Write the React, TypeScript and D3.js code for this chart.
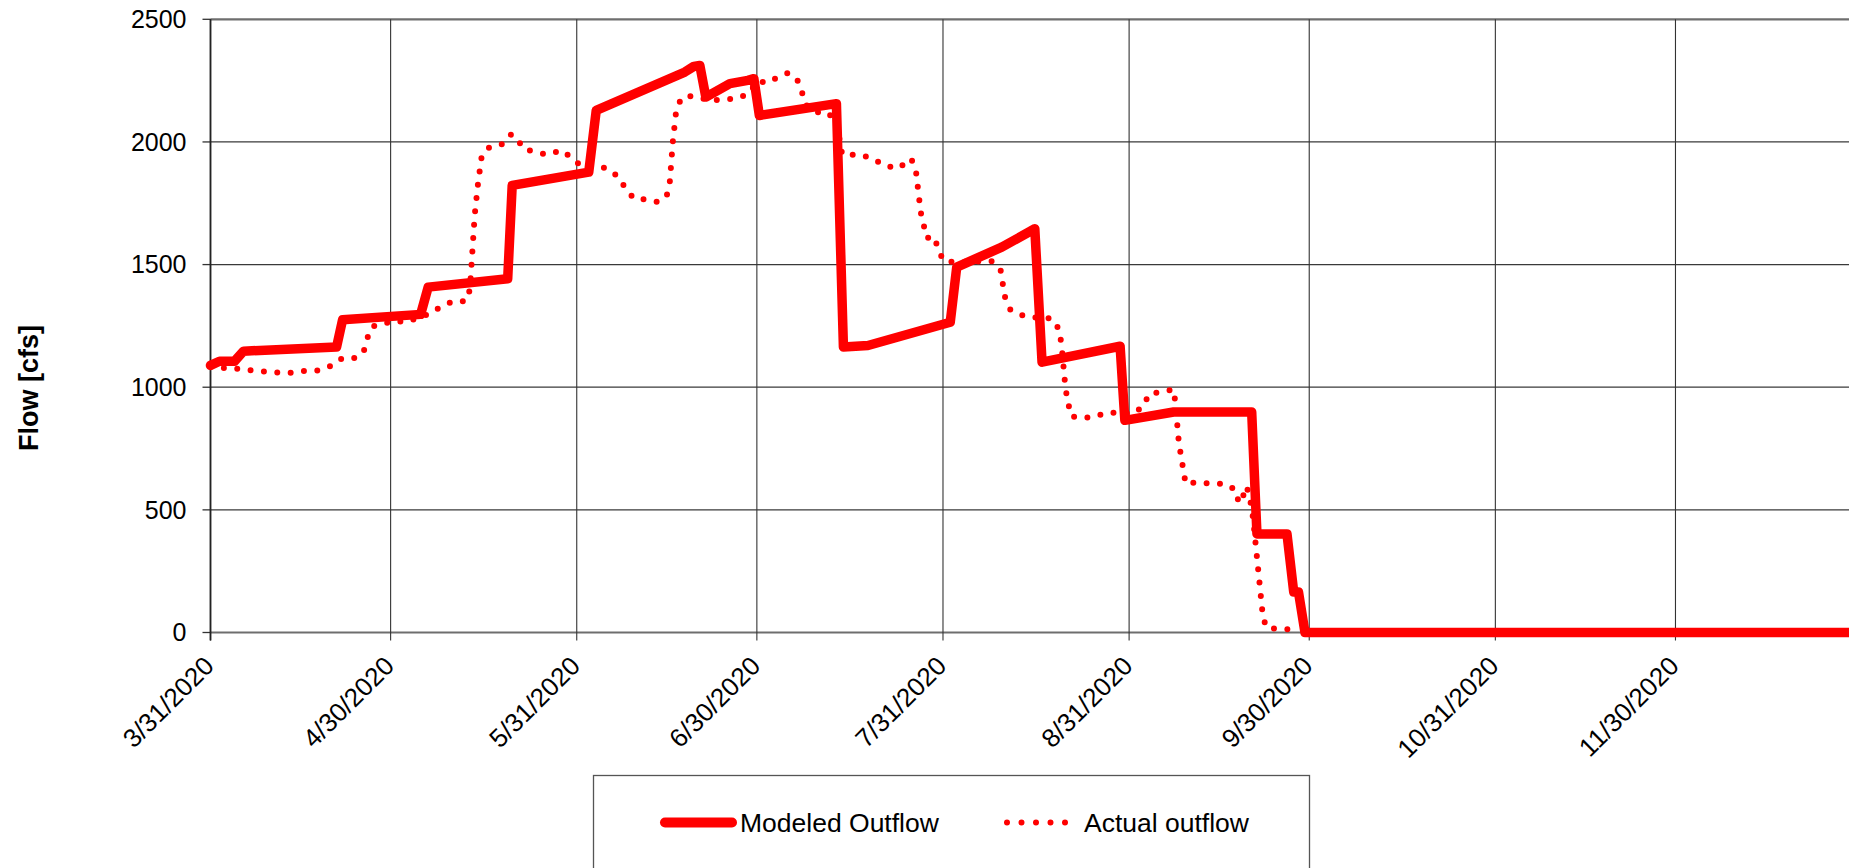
import React from "react";
import * as d3 from "d3";

// ---- data ----
const xTickLabels = ["3/31/2020", "4/30/2020", "5/31/2020", "6/30/2020", "7/31/2020", "8/31/2020", "9/30/2020", "10/31/2020", "11/30/2020"];
const yTickValues = [0, 500, 1000, 1500, 2000, 2500];
const xDomain = ["2020-03-31", "2020-12-31"];

const modeledDates = [
  "2020-03-31", "2020-04-01T12", "2020-04-04", "2020-04-05T12", "2020-04-21", "2020-04-22",
  "2020-05-05", "2020-05-06T06", "2020-05-19T12", "2020-05-20T06", "2020-06-02", "2020-06-03T06",
  "2020-06-18", "2020-06-19T12", "2020-06-20T12", "2020-06-21T12", "2020-06-25T12", "2020-06-28T12",
  "2020-06-29T12", "2020-06-30T10", "2020-07-13T06", "2020-07-14T10", "2020-07-18T12", "2020-08-01T05",
  "2020-08-02T07", "2020-08-09T19", "2020-08-15T07", "2020-08-16T12", "2020-08-29T12", "2020-08-30T07",
  "2020-09-07T10", "2020-09-20T10", "2020-09-21T07", "2020-09-26T07", "2020-09-27T10", "2020-09-28T05",
  "2020-09-29T07", "2020-12-31",
];
const modeledValues = [
  1089, 1106, 1106, 1147, 1164, 1275,
  1297, 1408, 1442, 1823, 1877, 2129,
  2285, 2308, 2312, 2183, 2238, 2251,
  2258, 2108, 2156, 1164, 1170, 1265,
  1490, 1571, 1646, 1102, 1167, 865,
  899, 899, 402, 402, 165, 165,
  0, 0,
];

const actualDates = [
  "2020-03-31", "2020-04-04T12", "2020-04-07", "2020-04-11T12", "2020-04-13T12", "2020-04-16",
  "2020-04-18", "2020-04-20", "2020-04-22", "2020-04-24", "2020-04-25T12", "2020-04-26",
  "2020-04-27", "2020-04-30T12", "2020-05-02T12", "2020-05-05", "2020-05-06T12", "2020-05-08T12",
  "2020-05-10T12", "2020-05-12T12", "2020-05-13T05", "2020-05-14", "2020-05-14T14", "2020-05-15T05",
  "2020-05-16T12", "2020-05-18T12", "2020-05-20", "2020-05-21", "2020-05-22", "2020-05-24",
  "2020-05-26", "2020-05-28T12", "2020-05-30", "2020-05-31T12", "2020-06-02T12", "2020-06-05",
  "2020-06-06T18", "2020-06-08", "2020-06-09T12", "2020-06-11T12", "2020-06-13T12", "2020-06-15",
  "2020-06-15T12", "2020-06-16", "2020-06-16T12", "2020-06-17T05", "2020-06-18T07", "2020-06-20T07",
  "2020-06-22T14", "2020-06-24T22", "2020-06-27", "2020-06-28T19", "2020-06-30", "2020-07-02",
  "2020-07-03T07", "2020-07-05T05", "2020-07-06T17", "2020-07-07T12", "2020-07-08T02", "2020-07-09T17",
  "2020-07-11T19", "2020-07-12T17", "2020-07-13T05", "2020-07-14T05", "2020-07-17T05", "2020-07-19T07",
  "2020-07-21T05", "2020-07-23T10", "2020-07-24T22", "2020-07-25T17", "2020-07-26T12", "2020-07-27T07",
  "2020-07-28T07", "2020-07-29T10", "2020-07-30T05", "2020-07-31", "2020-08-01T19", "2020-08-08T02",
  "2020-08-09T14", "2020-08-10T07", "2020-08-11T05", "2020-08-12T19", "2020-08-14T22", "2020-08-17T05",
  "2020-08-18T19", "2020-08-19T12", "2020-08-19T19", "2020-08-20T10", "2020-08-21T07", "2020-08-22T19",
  "2020-08-25", "2020-08-27T05", "2020-08-29T05", "2020-08-31T17", "2020-09-02T10", "2020-09-03T07",
  "2020-09-05T07", "2020-09-07T10", "2020-09-07T17", "2020-09-08T07", "2020-09-09T10", "2020-09-11T12",
  "2020-09-13T19", "2020-09-16", "2020-09-17T17", "2020-09-18T07", "2020-09-18T22", "2020-09-19T14",
  "2020-09-20T10", "2020-09-20T17", "2020-09-22T07", "2020-09-22T22", "2020-09-25T05", "2020-09-27T10",
];
const actualValues = [
  1082, 1075, 1068, 1059, 1059, 1068,
  1068, 1086, 1119, 1119, 1143, 1194,
  1248, 1270, 1266, 1286, 1300, 1330,
  1351, 1350, 1398, 1700, 1837, 1949,
  1979, 1990, 2030, 2020, 1973, 1959,
  1949, 1966, 1938, 1907, 1905, 1892,
  1861, 1816, 1769, 1766, 1755, 1782,
  1837, 2000, 2113, 2167, 2190, 2179,
  2170, 2174, 2179, 2200, 2247, 2242,
  2262, 2281, 2255, 2204, 2153, 2122,
  2120, 2095, 2090, 1948, 1948, 1932,
  1905, 1891, 1916, 1932, 1880, 1714,
  1608, 1616, 1567, 1517, 1510, 1514,
  1480, 1370, 1317, 1296, 1284, 1286,
  1266, 1214, 1160, 992, 882, 875,
  878, 896, 896, 892, 923, 973,
  980, 991, 935, 772, 606, 613,
  606, 606, 582, 527, 552, 597,
  511, 450, 62, 18, 15, 12,
];

const seriesNames = ["Modeled Outflow", "Actual outflow"];
const yTitle = "Flow [cfs]";

// ---- helpers ----
const parseHour = d3.utcParse("%Y-%m-%dT%H");
const parseDay = d3.utcParse("%Y-%m-%d");
const parseLabel = d3.utcParse("%m/%d/%Y");
const parse = (s: string) => (s.length > 10 ? parseHour(s) : parseDay(s)) as Date;

const FONT = "'Liberation Sans', Arial, Helvetica, sans-serif";
const RED = "#ff0000";

export default function App() {
  const W = 1849;
  const H = 868;
  const left = 210.5;
  const top = 19.3;
  const bottom = 632.5;

  const x = d3
    .scaleUtc()
    .domain([parse(xDomain[0]), parse(xDomain[1])])
    .range([left, left + 275 * 6.004]);
  const y = d3.scaleLinear().domain([0, 2500]).range([bottom, top]);

  const modeled: [Date, number][] = modeledDates.map((d, i) => [parse(d), modeledValues[i]]);
  const actual: [Date, number][] = actualDates.map((d, i) => [parse(d), actualValues[i]]);

  const line = d3
    .line<[Date, number]>()
    .x((d) => x(d[0]))
    .y((d) => y(d[1]));

  const tickDates = xTickLabels.map((s) => parseLabel(s) as Date);
  const right = W + 20;

  return (
    <svg
      width={W}
      height={H}
      style={{ position: "absolute", left: 0, top: 0, background: "#fff" }}
      fontFamily={FONT}
    >
      <rect x={0} y={0} width={W} height={H} fill="#fff" />
      {/* horizontal gridlines */}
      {yTickValues.map((v) => {
        const edge = v === 0 || v === 2500;
        return (
          <line
            key={"h" + v}
            x1={left}
            x2={right}
            y1={y(v)}
            y2={y(v)}
            stroke={edge ? "#6e6e6e" : "#3a3a3a"}
            strokeWidth={edge ? 2.2 : 1.3}
          />
        );
      })}
      {/* vertical gridlines + ticks */}
      {tickDates.map((d, i) => (
        <line
          key={"v" + i}
          x1={x(d)}
          x2={x(d)}
          y1={top}
          y2={bottom + 8}
          stroke="#333"
          strokeWidth={1.1}
        />
      ))}
      {/* y ticks */}
      {yTickValues.map((v) => (
        <line key={"yt" + v} x1={left - 8} x2={left} y1={y(v)} y2={y(v)} stroke="#333" strokeWidth={1.3} />
      ))}
      {/* y axis line */}
      <line x1={left} x2={left} y1={top} y2={bottom + 8} stroke="#222" strokeWidth={1.8} />

      {/* y tick labels */}
      {yTickValues.map((v) => (
        <text key={"yl" + v} x={186.5} y={y(v)} dy="0.35em" textAnchor="end" fontSize={25} fill="#000">
          {v}
        </text>
      ))}
      {/* x tick labels */}
      {tickDates.map((d, i) => (
        <text
          key={"xl" + i}
          transform={`translate(${x(d) + 5},${bottom + 35}) rotate(-45)`}
          textAnchor="end"
          fontSize={26}
          fill="#000"
        >
          {xTickLabels[i]}
        </text>
      ))}
      {/* y title */}
      <text
        transform={`translate(37.5,388) rotate(-90)`}
        textAnchor="middle"
        fontSize={27}
        fontWeight="bold"
        fill="#000"
      >
        {yTitle}
      </text>

      {/* series */}
      <path
        d={line(actual) || ""}
        fill="none"
        stroke={RED}
        strokeWidth={6}
        strokeLinecap="round"
        strokeDasharray="0 13.4"
      />
      <path
        d={line(modeled) || ""}
        fill="none"
        stroke={RED}
        strokeWidth={9.5}
        strokeLinejoin="round"
        strokeLinecap="round"
      />

      {/* legend */}
      <rect x={593.5} y={775.5} width={716} height={200} fill="#fff" stroke="#555" strokeWidth={1.3} />
      <line x1={665} x2={732} y1={822.5} y2={822.5} stroke={RED} strokeWidth={10} strokeLinecap="round" />
      <text x={740} y={823} dy="0.35em" fontSize={26.5} fill="#000">
        {seriesNames[0]}
      </text>
      <line
        x1={1007}
        x2={1066}
        y1={822.5}
        y2={822.5}
        stroke={RED}
        strokeWidth={6}
        strokeLinecap="round"
        strokeDasharray="0 14.5"
      />
      <text x={1084} y={823} dy="0.35em" fontSize={26.5} fill="#000">
        {seriesNames[1]}
      </text>
    </svg>
  );
}
